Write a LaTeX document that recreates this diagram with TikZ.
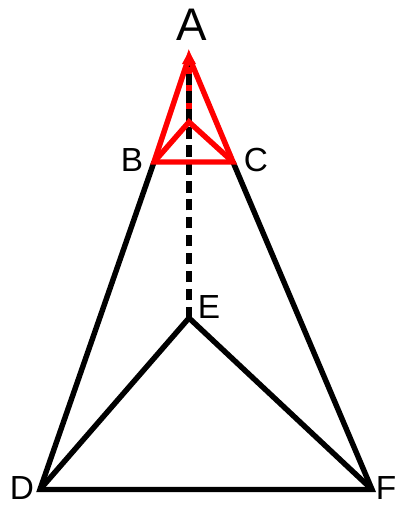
\documentclass[tikz,border=0pt]{standalone}
\usepackage{fontspec}
\setmainfont{Liberation Sans}
\usepackage{tikz}
\usetikzlibrary{arrows.meta,positioning}

\tikzset{
    edge/.style={line width=3.1pt, black},
    redge/.style={line width=3.1pt, red},
    hidden/.style={line width=3.1pt, black, dash pattern=on 6.5pt off 3.7pt},
    lbl/.style={inner sep=0pt, font=\fontsize{19}{22}\selectfont},
    biglbl/.style={inner sep=0pt, font=\fontsize{26}{30}\selectfont}
}

\begin{document}
\begin{tikzpicture}
        \useasboundingbox (0,0) rectangle (7.96,10.16);

        % Points
        \coordinate (A) at (3.78,9.02);
        \coordinate (B) at (3.08,6.92);
        \coordinate (C) at (4.66,6.92);
        \coordinate (G) at (3.78,7.72);
        \coordinate (E) at (3.78,3.80);
        \coordinate (D) at (0.80,0.37);
        \coordinate (F) at (7.44,0.37);
        \coordinate (Atip) at (3.78,9.14);

        % Labels
        \node[biglbl] (lA) at (3.84,9.66) {A};
        \node[lbl] (lB) at (2.64,6.96) {B};
        \node[lbl] (lC) at (5.12,6.96) {C};
        \node[lbl] (lE) at (4.18,4.02) {E};
        \node[lbl] (lD) at (0.44,0.40) {D};
        \node[lbl] (lF) at (7.72,0.40) {F};

        % Outer (black) figure
        \draw[edge] (B) -- (D) -- (F) -- (C);
        \draw[edge] (D) -- (E) -- (F);

        % Red axis with arrow
        \draw[redge, -{Triangle[length=7.5pt,width=7.5pt]}] (G) -- (Atip);

        % Dashed axis
        \draw[hidden] (E) -- (A);

        % Red top figure
        \draw[redge] (A) -- (B) -- (C) -- cycle;
        \draw[redge] (B) -- (G) -- (C);
\end{tikzpicture}
\end{document}
